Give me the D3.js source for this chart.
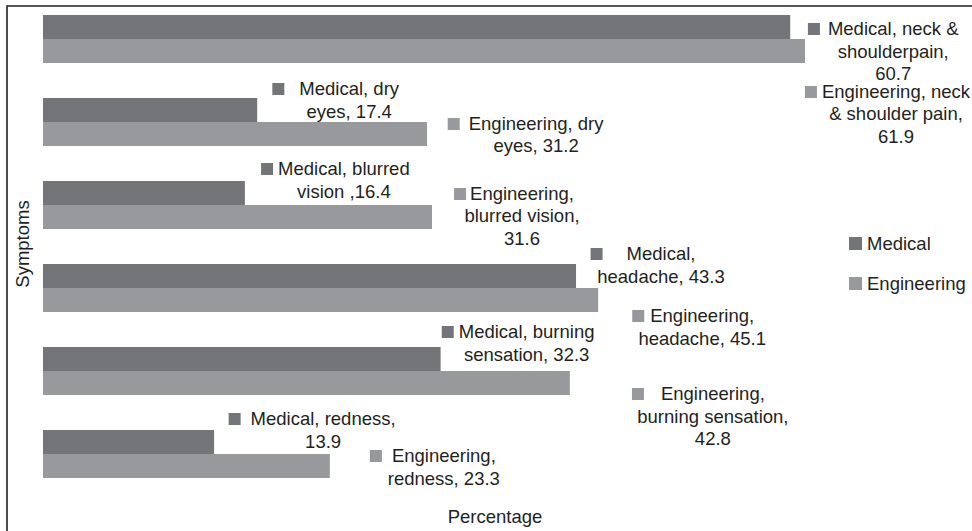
<!DOCTYPE html>
<html>
<head>
<meta charset="utf-8">
<script src="https://cdn.jsdelivr.net/npm/d3@7"></script>
<style>
  body { margin: 0; background: #fff; }
  svg text { font-family: "Liberation Sans", Arial, sans-serif; font-size: 18.5px; fill: #231f20; }
</style>
</head>
<body>
<svg id="chart" width="972" height="531"></svg>
<script>
// data
var symptoms = ["neck & shoulder pain", "dry eyes", "blurred vision", "headache", "burning sensation", "redness"];
var seriesNames = ["Medical", "Engineering"];
var medical = [60.7, 17.4, 16.4, 43.3, 32.3, 13.9];
var engineering = [61.9, 31.2, 31.6, 45.1, 42.8, 23.3];

var medicalLabels = [
  ["Medical, neck &", "shoulderpain,", "60.7"],
  ["Medical, dry", "eyes, 17.4"],
  ["Medical, blurred", "vision ,16.4"],
  ["Medical,", "headache, 43.3"],
  ["Medical, burning", "sensation, 32.3"],
  ["Medical, redness,", "13.9"]
];
var engineeringLabels = [
  ["Engineering, neck", "& shoulder pain,", "61.9"],
  ["Engineering, dry", "eyes, 31.2"],
  ["Engineering,", "blurred vision,", "31.6"],
  ["Engineering,", "headache, 45.1"],
  ["Engineering,", "burning sensation,", "42.8"],
  ["Engineering,", "redness, 23.3"]
];

// label placement: [dx from bar end to text centre, dy from bar top to first baseline, gap key->text]
var medicalLabelPos = [[103, 20, 8], [92, -3, 15], [99, -6, 5], [85, -4, 24], [86, -9, 5], [109, -5, 10]];
var engineeringLabelPos = [[91, 59, 5], [109, 8, 9], [90, -5, 4], [104, 34, 6], [143, 29, 17], [114, 8, 10]];

var colors = { Medical: "#747579", Engineering: "#98999c" };

var svg = d3.select("#chart");

// frame (only top and left show in the crop)
svg.append("path")
  .attr("d", "M7,531 V6 H972")
  .attr("fill", "none")
  .attr("stroke", "#231f20")
  .attr("stroke-width", 1.6);

var x = d3.scaleLinear().domain([0, 70]).range([43, 43 + 70 * 12.31]);
var y = d3.scaleBand().domain(symptoms).range([15, 478]).paddingInner(0.4217).paddingOuter(0);
var ys = d3.scaleBand().domain(seriesNames).range([0, y.bandwidth()]);

var rows = symptoms.map(function(s, i) {
  return [
    { name: "Medical", sym: s, value: medical[i], lines: medicalLabels[i], pos: medicalLabelPos[i] },
    { name: "Engineering", sym: s, value: engineering[i], lines: engineeringLabels[i], pos: engineeringLabelPos[i] }
  ];
});
var points = d3.merge(rows);

svg.append("g").selectAll("rect")
  .data(points)
  .enter()
  .append("rect")
  .attr("x", x(0))
  .attr("y", d => y(d.sym) + ys(d.name))
  .attr("width", d => x(d.value) - x(0))
  .attr("height", ys.bandwidth())
  .attr("fill", d => colors[d.name]);

// data labels with legend key
var lineH = 22.5;
var labels = svg.append("g").selectAll("g")
  .data(points)
  .enter()
  .append("g")
  .attr("transform", d => "translate(" + (x(d.value) + d.pos[0]) + "," + (y(d.sym) + ys(d.name) + d.pos[1]) + ")");

labels.each(function(d) {
  var g = d3.select(this);
  var first;
  d.lines.forEach(function(line, i) {
    var t = g.append("text")
      .attr("x", 0)
      .attr("y", i * lineH)
      .attr("text-anchor", "middle")
      .text(line);
    if (i === 0) first = t;
  });
  var w = first.node().getComputedTextLength();
  g.insert("rect", "text")
    .attr("x", -w / 2 - d.pos[2] - 12)
    .attr("y", -12)
    .attr("width", 12)
    .attr("height", 12)
    .attr("fill", colors[d.name]);
});

// legend
var legend = svg.append("g").selectAll("g")
  .data(seriesNames)
  .enter()
  .append("g")
  .attr("transform", (d, i) => "translate(849," + (250 + i * 40) + ")");
legend.append("rect")
  .attr("y", -13)
  .attr("width", 13)
  .attr("height", 13)
  .attr("fill", d => colors[d]);
legend.append("text")
  .attr("x", 18)
  .attr("y", 0)
  .text(d => d);

// axis titles
svg.append("text")
  .attr("x", 495)
  .attr("y", 523)
  .attr("text-anchor", "middle")
  .text("Percentage");
svg.append("text")
  .attr("transform", "translate(29,244) rotate(-90)")
  .attr("text-anchor", "middle")
  .text("Symptoms");
</script>
</body>
</html>
